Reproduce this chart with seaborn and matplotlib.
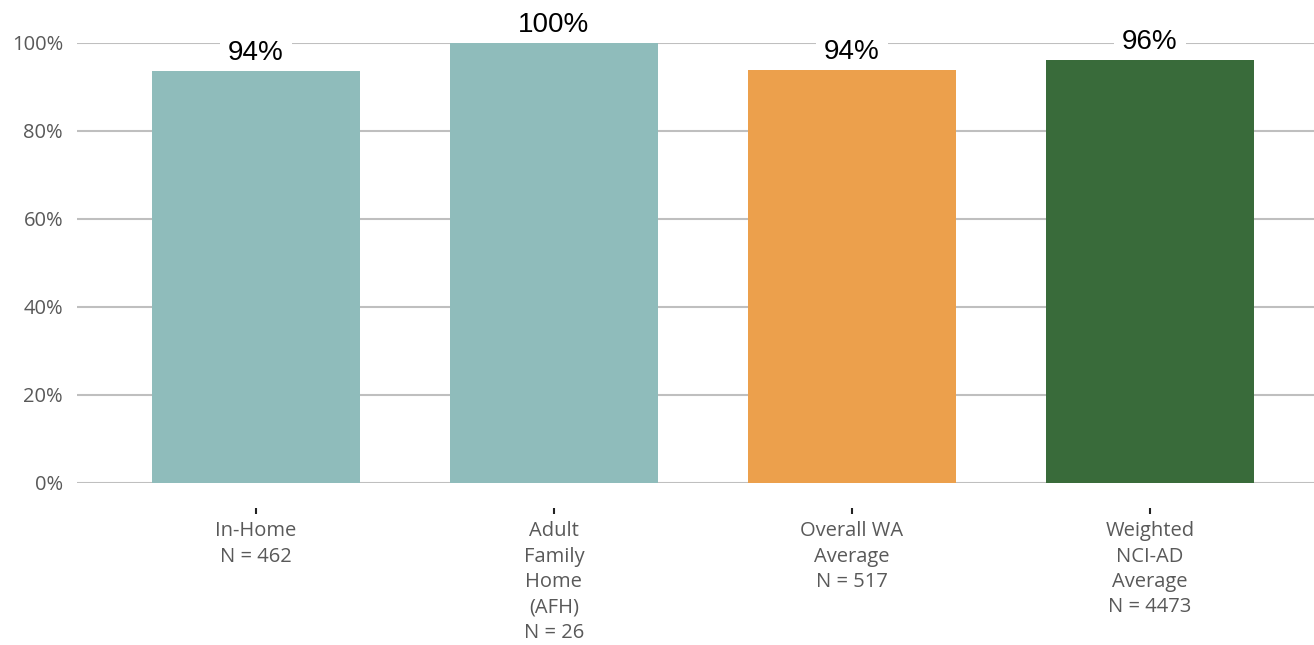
import pandas as pd
import matplotlib
matplotlib.use("Agg")
import matplotlib.pyplot as plt
import seaborn as sns

# chart data
categories = ["In-Home\nN = 462", "Adult\nFamily\nHome\n(AFH)\nN = 26",
              "Overall WA\nAverage\nN = 517", "Weighted\nNCI-AD\nAverage\nN = 4473"]
values = [93.6, 100.0, 93.9, 96.1]
value_labels = ["94%", "100%", "94%", "96%"]
colors = ["#8FBCBB", "#8FBCBB", "#ECA04C", "#396B3A"]

sns.set_style("white")
plt.rcParams["font.family"] = ["Open Sans", "DejaVu Sans"]

df = pd.DataFrame({"group": categories, "pct": values})

fig = plt.figure(figsize=(13.14, 6.45), dpi=100)
ax = fig.add_axes([77 / 1314, 1 - 483 / 645, 1 - 77 / 1314, (483 - 43) / 645])

sns.barplot(data=df, x="group", y="pct", hue="group", palette=colors,
            width=0.7, saturation=1, legend=False, ax=ax, linewidth=0,
            zorder=3)

ax.set_ylim(0, 100)
ax.set_xlim(-0.6, 3.55)
ax.set_yticks(range(0, 101, 20))
ax.set_yticklabels([f"{t}%" for t in range(0, 101, 20)])
ax.yaxis.grid(True, color="#BFBFBF", linewidth=1.5, zorder=0)
ax.set_axisbelow(True)
for s in ["top", "right", "left"]:
    ax.spines[s].set_visible(False)
ax.spines["bottom"].set_position(("outward", 18))
ax.spines["bottom"].set_visible(False)

ax.tick_params(axis="y", length=0, labelsize=14.5, labelcolor="#595959", pad=10)
ax.tick_params(axis="x", length=4.5, width=1.5, color="#222222", labelsize=14.5,
               labelcolor="#595959", pad=5, bottom=True)
for lbl in ax.get_xticklabels():
    lbl.set_linespacing(1.36)
ax.set_xlabel("")
ax.set_ylabel("")

# value labels sit below the bars (zorder) so their white box only cuts the gridline
for i, (v, t) in enumerate(zip(values, value_labels)):
    ax.text(i, v + 2.5, t, ha="center", va="baseline", fontsize=20,
            family=["Liberation Sans", "DejaVu Sans"], color="black",
            bbox=dict(facecolor="white", edgecolor="none", pad=6),
            zorder=2.5, clip_on=False)

fig.savefig("out.png", dpi=100)
